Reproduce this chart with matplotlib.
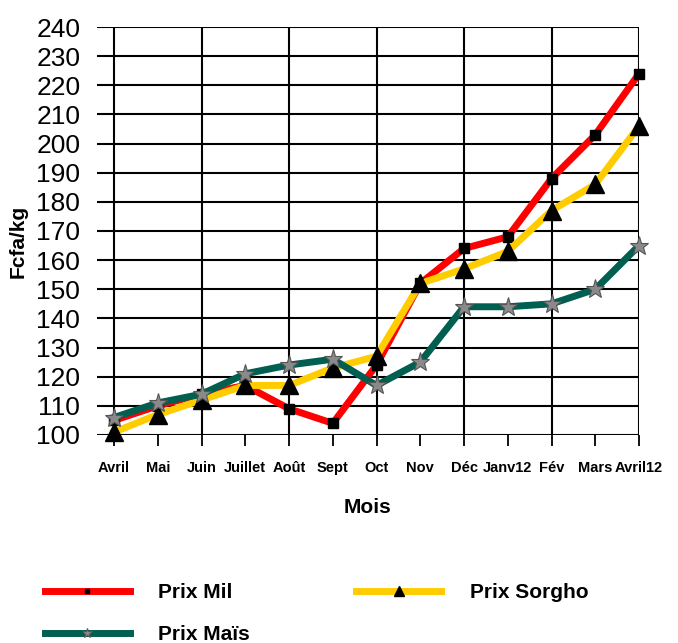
import matplotlib
matplotlib.use("Agg")
import matplotlib.pyplot as plt

# mois et prix (Fcfa/kg)
mois = ['Avril', 'Mai', 'Juin', 'Juillet', 'Août', 'Sept', 'Oct', 'Nov',
        'Déc', 'Janv12', 'Fév', 'Mars', 'Avril12']
prix_mil = [105, 110, 114, 117, 109, 104, 124, 152, 164, 168, 188, 203, 224]
prix_sorgho = [101, 107, 112, 117, 117, 123, 127, 152, 157, 163, 177, 186, 206]
prix_mais = [106, 111, 114, 121, 124, 126, 117, 125, 144, 144, 145, 150, 165]
y_ticks = list(range(100, 241, 10))

plt.rcParams['font.family'] = ['Liberation Sans', 'DejaVu Sans']

fig = plt.figure(figsize=(6.78, 6.43), dpi=100)
ax = fig.add_axes([0.143, 0.3235, 0.7995, 0.6345])

x = list(range(len(mois)))

l_mil, = ax.plot(x, prix_mil, color='#ff0000', lw=5, marker='s', ms=7,
                 mfc='black', mec='black', label='Prix Mil', clip_on=False, zorder=3)
l_sorgho, = ax.plot(x, prix_sorgho, color='#ffcc00', lw=5, marker='^', ms=13,
                    mfc='black', mec='black', label='Prix Sorgho', clip_on=False, zorder=4)
l_mais, = ax.plot(x, prix_mais, color='#005f50', lw=5, marker='*', ms=14,
                  mfc='#8a8a8a', mec='#555555', mew=0.8, label='Prix Maïs',
                  clip_on=False, zorder=5)

ax.set_xlim(-0.39, 12)
ax.set_ylim(100, 240)
ax.set_yticks(y_ticks)
ax.set_yticklabels([str(v) for v in y_ticks], fontsize=19)
ax.set_xticks(x)
ax.set_xticklabels(mois, fontsize=10.5, fontweight='bold')
ax.tick_params(axis='y', length=0, pad=12)
ax.tick_params(axis='x', length=8, width=1.3, color='black', direction='out', pad=11)

for s in ax.spines.values():
    s.set_visible(False)
ax.grid(False)
for v in y_ticks:
    ax.axhline(v, color='black', lw=1.5, zorder=1)
for i in x[::2]:
    ax.axvline(i, color='black', lw=1.5, zorder=1)

ax.set_ylabel('Fcfa/kg', fontsize=15, fontweight='bold')
ax.yaxis.set_label_coords(-0.128, 0.475)
ax.set_xlabel('Mois', fontsize=15, fontweight='bold', labelpad=16)

fig.legend([l_mil, l_mais, l_sorgho], ['Prix Mil', 'Prix Maïs', 'Prix Sorgho'],
           ncol=2, loc='upper left', bbox_to_anchor=(0.038, 0.122),
           frameon=False, handlelength=4.1, handletextpad=1.35, columnspacing=5.1,
           markerscale=0.5, labelspacing=1.1,
           prop={'weight': 'bold', 'size': 15})

fig.savefig('out.png', dpi=100)
